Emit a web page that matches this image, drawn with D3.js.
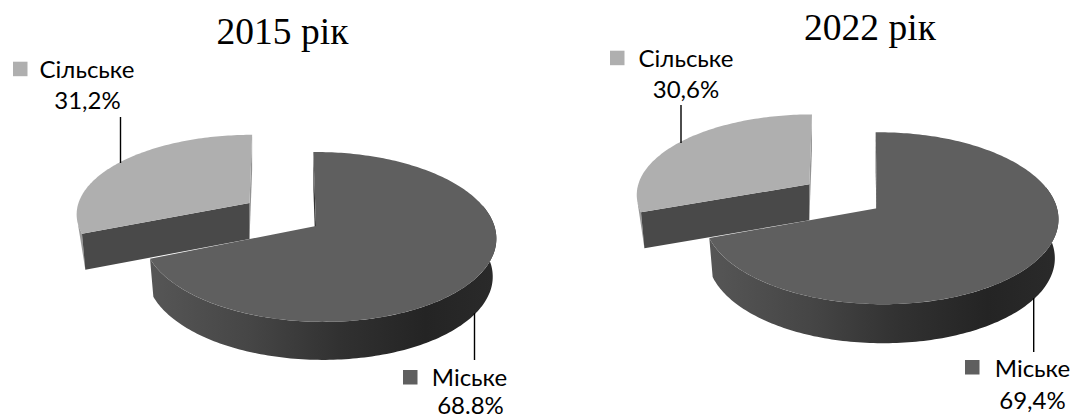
<!DOCTYPE html>
<html><head><meta charset="utf-8">
<script src="https://cdn.jsdelivr.net/npm/d3@7"></script>
<style>html,body{margin:0;padding:0;background:#fff;overflow:hidden}svg{display:block}</style>
</head><body><svg id="c" width="1073" height="419"></svg>
<script>
const categories = ["Міське", "Сільське"];
const years = ["2015 рік", "2022 рік"];
const shares2015 = [68.8, 31.2];
const shares2022 = [69.4, 30.6];
const valueLabels2015 = ["68.8%", "31,2%"];
const valueLabels2022 = ["69,4%", "30,6%"];

const svg = d3.select("#c");
const defs = svg.append("defs");
const pie = d3.pie().sort(null).startAngle(0).endAngle(2 * Math.PI);
const TOPC = ["#5f5f5f", "#afafaf"];

const charts = [
  { values: shares2015, labels: valueLabels2015, title: years[0], titleX: 282.5, titleY: 44,
    main: {cx:316, cy:226, A:83.5, k:.129, B:175, m:.019, s:3, d:38},
    out:  {cx:249.5, cy:203, A:77, k:.129, B:171, m:0, s:-3, d:36},
    lines: [[474.5,313,360],[120.5,117,163]],
    legend: [{sx:403, sy:370, tx:469.5, ty:386, vx:470.5, vy:414},{sx:13, sy:61.7, tx:87, ty:77.7, vx:87.5, vy:109}] },
  { values: shares2022, labels: valueLabels2022, title: years[1], titleX: 870, titleY: 40,
    main: {cx:877, cy:208.3, A:84.8, k:.116, B:175.9, m:.023, s:1.5, d:39},
    out:  {cx:809.3, cy:184.3, A:78, k:.116, B:171, m:0, s:-3, d:36},
    lines: [[1033.7,298,352],[681,105,143]],
    legend: [{sx:965, sy:360, tx:1032.5, ty:376.7, vx:1032.5, vy:409},{sx:610, sy:50.7, tx:686, ty:66.7, vx:686, vy:98}] }
];

function projector(g) {
  return (theta, depth) => {
    const x = Math.sin(theta), y = -Math.cos(theta);
    const den = 1 - g.k * y - g.m * x;
    const inset = 1 - 0.02 * (depth / g.d);
    return [g.cx + inset * (g.B * x + g.s * y) / den, g.cy + g.A * y / den + depth];
  };
}
function samples(a0, a1) {
  const n = Math.max(2, Math.ceil(Math.abs(a1 - a0) / 0.02));
  return d3.range(n + 1).map(i => a0 + (a1 - a0) * i / n);
}
const line = d3.line();

charts.forEach((c, ci) => {
  const arcs = pie(c.values);
  const [mainArc, outArc] = arcs;

  // exploded slice
  const pO = projector(c.out);
  const g = svg.append("g");
  const oA = outArc.startAngle, oB = outArc.endAngle;
  // far side face
  g.append("path").attr("fill", "#939393").attr("d", line([
    pO(oB, 0), [c.out.cx, c.out.cy], [c.out.cx, c.out.cy + c.out.d], pO(oB, c.out.d)]) + "Z");
  // thin visible sliver of the outer rim
  g.append("path").attr("fill", "#9a9a9a").attr("d", line([
    pO(oA + 0.12, 0), pO(oA, c.out.d), pO(oA, 0)]) + "Z");
  // cut face
  g.append("path").attr("fill", "#494949").attr("d", line([
    pO(oA, 0), [c.out.cx, c.out.cy], [c.out.cx, c.out.cy + c.out.d], pO(oA, c.out.d)]) + "Z");
  // top
  g.append("path").attr("fill", TOPC[1]).attr("d",
    line([[c.out.cx, c.out.cy], ...samples(oA, oB).map(t => pO(t, 0))]) + "Z");

  // main slice
  const pM = projector(c.main);
  const mA = mainArc.startAngle, mB = mainArc.endAngle;
  const gid = "wall" + ci;
  const xR = pM(Math.PI / 2, 0)[0], xL = pM(mB, 0)[0];
  const grad = defs.append("linearGradient").attr("id", gid)
    .attr("gradientUnits", "userSpaceOnUse")
    .attr("x1", xL).attr("x2", xR).attr("y1", 0).attr("y2", 0);
  [[0, "#565656"], [.3, "#454545"], [.55, "#313131"], [.8, "#242424"], [1, "#2a2a2a"]]
    .forEach(s => grad.append("stop").attr("offset", s[0]).attr("stop-color", s[1]));
  // inner sliver
  g.append("path").attr("fill", "#333").attr("d", line([
    pM(mA, 0), [c.main.cx, c.main.cy], [c.main.cx, c.main.cy + c.main.d], pM(mA, c.main.d)]) + "Z");
  // outer wall
  const wall = samples(Math.PI * 0.42, mB);
  g.append("path").attr("fill", `url(#${gid})`).attr("d", d3.area()
    .x0(t => pM(t, 0)[0]).y0(t => pM(t, 0)[1])
    .x1(t => pM(t, c.main.d)[0]).y1(t => pM(t, c.main.d)[1])(wall));
  // top
  g.append("path").attr("fill", TOPC[0]).attr("d",
    line([[c.main.cx, c.main.cy], ...samples(mA, mB).map(t => pM(t, 0))]) + "Z");

  // leaders
  c.lines.forEach(l => svg.append("line").attr("x1", l[0]).attr("x2", l[0]).attr("y1", l[1]).attr("y2", l[2])
    .attr("stroke", "#000").attr("stroke-width", 1.4));

  // title
  svg.append("text").attr("x", c.titleX).attr("y", c.titleY).attr("text-anchor", "middle")
    .attr("font-family", "'Liberation Serif', serif").attr("font-size", 37.5).attr("fill", "#000").text(c.title);

  // labels
  c.legend.forEach((l, i) => {
    svg.append("rect").attr("x", l.sx).attr("y", l.sy).attr("width", 14.5).attr("height", 14.5).attr("fill", TOPC[i]);
    const t = svg.append("g").attr("font-family", "Lato, 'Open Sans', sans-serif").attr("font-size", 24)
      .attr("fill", "#000").attr("text-anchor", "middle");
    t.append("text").attr("x", l.tx).attr("y", l.ty).text(categories[i]);
    t.append("text").attr("x", l.vx).attr("y", l.vy).text(c.labels[i]);
  });
});
</script></body></html>
